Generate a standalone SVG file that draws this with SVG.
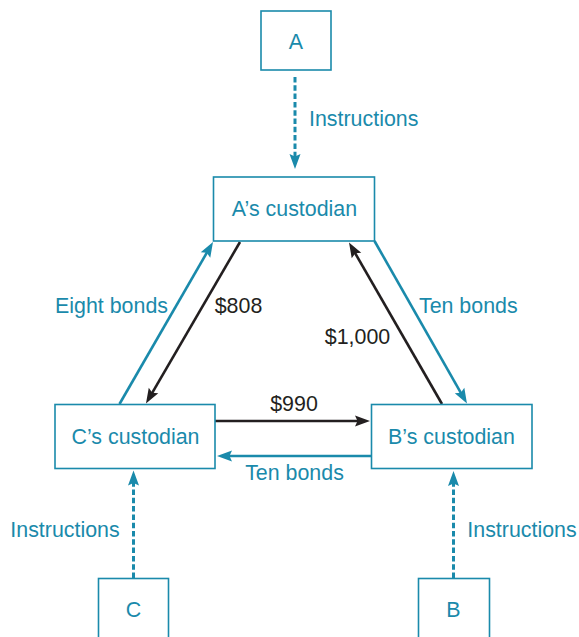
<svg xmlns="http://www.w3.org/2000/svg" width="579" height="637" viewBox="0 0 579 637">
<style>
.box{fill:#fff;stroke:#1a8aab;stroke-width:1.6}
.t{font-family:"Liberation Sans",Arial,Helvetica,sans-serif;font-size:21.4px;fill:#1a8aab;text-anchor:middle}
.k{fill:#231f20}
.teal{stroke:#1a8aab;stroke-width:2.6;fill:none}
.blk{stroke:#231f20;stroke-width:2.6;fill:none}
.dash{stroke:#1a8aab;stroke-width:3;stroke-dasharray:5.5 2.8;fill:none}
</style>
<defs>
<marker id="ah-teal" markerUnits="userSpaceOnUse" markerWidth="17" markerHeight="12" refX="9" refY="5.5" orient="auto" viewBox="0 0 17 11" overflow="visible">
<path d="M0,0 L15,5.5 L0,11 L2.5,5.5 Z" fill="#1a8aab"/>
</marker>
<marker id="ah-blk" markerUnits="userSpaceOnUse" markerWidth="17" markerHeight="12" refX="9" refY="5.5" orient="auto" viewBox="0 0 17 11" overflow="visible">
<path d="M0,0 L15,5.5 L0,11 L2.5,5.5 Z" fill="#231f20"/>
</marker>
</defs>
<g id="connectors">
<line class="dash" x1="295" y1="77" x2="295" y2="163" marker-end="url(#ah-teal)"/>
<line class="dash" x1="133.5" y1="578" x2="133.5" y2="476.5" marker-end="url(#ah-teal)"/>
<line class="dash" x1="453.5" y1="578" x2="453.5" y2="477" marker-end="url(#ah-teal)"/>
<line class="teal" x1="119.5" y1="404" x2="210" y2="247.2" marker-end="url(#ah-teal)"/>
<line class="blk" x1="240" y1="242" x2="149" y2="398.3" marker-end="url(#ah-blk)"/>
<line class="blk" x1="442" y1="404" x2="352" y2="247.7" marker-end="url(#ah-blk)"/>
<line class="teal" x1="374.5" y1="241" x2="464" y2="398.3" marker-end="url(#ah-teal)"/>
<line class="blk" x1="215" y1="421" x2="364" y2="421" marker-end="url(#ah-blk)"/>
<line class="teal" x1="371" y1="456" x2="223" y2="456" marker-end="url(#ah-teal)"/>
<text class="t" x="309" y="126" style="text-anchor:start">Instructions</text>
<text class="t" x="111.5" y="313">Eight bonds</text>
<text class="t k" x="238.5" y="313">$808</text>
<text class="t" x="468.3" y="312.5">Ten bonds</text>
<text class="t k" x="357.5" y="343.5">$1,000</text>
<text class="t k" x="294" y="410.5">$990</text>
<text class="t" x="294.5" y="480">Ten bonds</text>
<text class="t" x="65" y="536.5">Instructions</text>
<text class="t" x="522" y="536.5">Instructions</text>
</g>
<g id="node-A">
<rect class="box" x="261" y="11" width="70" height="59"/>
<text class="t" x="296" y="48.5">A</text>
</g>
<g id="node-A-custodian">
<rect class="box" x="213.5" y="177" width="161" height="64"/>
<text class="t" x="294.5" y="216">A’s custodian</text>
</g>
<g id="node-C-custodian">
<rect class="box" x="55" y="404.5" width="160" height="64"/>
<text class="t" x="135.5" y="444">C’s custodian</text>
</g>
<g id="node-B-custodian">
<rect class="box" x="371.5" y="404.5" width="160.5" height="64"/>
<text class="t" x="451.5" y="444">B’s custodian</text>
</g>
<g id="node-C">
<rect class="box" x="98.5" y="578.5" width="70" height="70"/>
<text class="t" x="133.5" y="617">C</text>
</g>
<g id="node-B">
<rect class="box" x="418.5" y="578.5" width="71" height="70"/>
<text class="t" x="453.5" y="617">B</text>
</g>
</svg>
